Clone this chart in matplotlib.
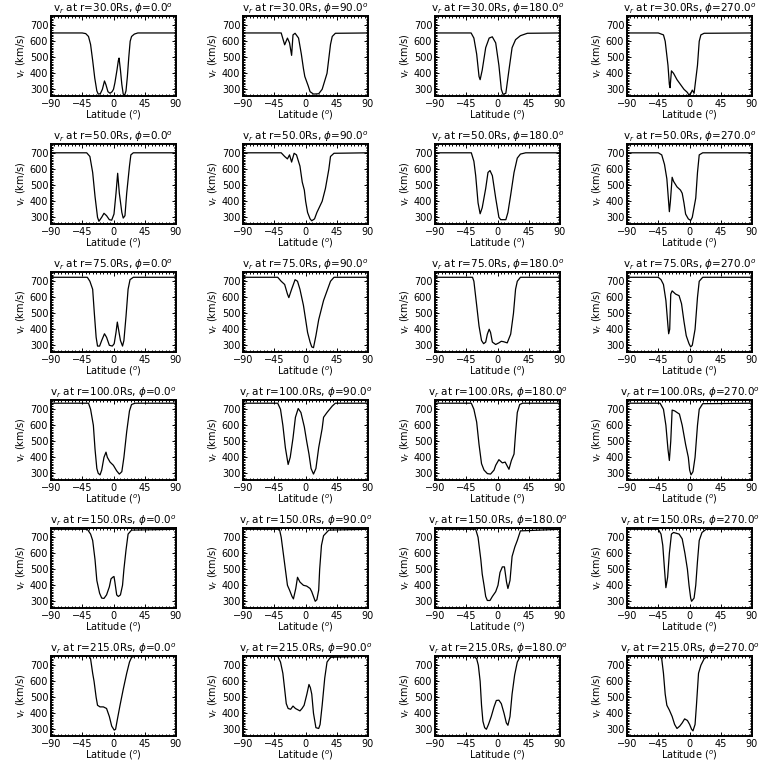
import matplotlib
matplotlib.use('Agg')
import matplotlib.pyplot as plt
from matplotlib.ticker import MultipleLocator

radii = [30.0, 50.0, 75.0, 100.0, 150.0, 215.0]
phis = [0.0, 90.0, 180.0, 270.0]

# r = 30 Rs
lat_30_0 = [-90, -45, -40, -36, -33, -30, -27, -24, -22, -19, -16, -13, -11, -8, -5, -2, 0, 2, 5, 7, 8, 10, 12, 14, 16, 18, 20, 22, 24, 26, 30, 35, 90]
v_30_0 = [652, 652, 648, 630, 580, 480, 370, 290, 270, 272, 300, 352, 330, 285, 275, 285, 300, 340, 420, 480, 495, 420, 330, 270, 262, 290, 380, 500, 600, 630, 645, 652, 652]
lat_30_90 = [-90, -35, -30, -26, -23, -20, -18, -15, -10, -6, -3, -1, 4, 6.6, 11.5, 19, 24, 31, 36, 38.5, 43, 90]
v_30_90 = [652, 652, 578, 620, 590, 512, 640, 650, 620, 520, 430, 380, 320, 285, 270, 272, 300, 400, 580, 630, 650, 652]
lat_30_180 = [-90, -38, -34, -30, -26.6, -25, -22, -17, -12, -7.5, -2.6, 2, 5.5, 8, 12, 16.5, 21, 26, 33, 43, 90]
v_30_180 = [652, 652, 620, 520, 380, 360, 420, 560, 620, 628, 590, 450, 300, 268, 275, 420, 560, 610, 635, 650, 652]
lat_30_270 = [-90, -45, -37.5, -35, -31, -29, -28, -26, -23, -18, -13, -8, -3, -1, 2, 4, 6.6, 11.5, 14, 16.4, 21, 90]
v_30_270 = [652, 652, 640, 600, 450, 330, 310, 415, 400, 360, 330, 300, 280, 265, 275, 295, 275, 450, 600, 640, 650, 652]

# r = 50 Rs
lat_50_0 = [-90, -38.6, -34, -30, -26.6, -23, -21, -17, -13.7, -10, -6, -2.6, 0.7, 3.6, 6, 8.4, 12, 14, 16.5, 19, 23, 25, 28.5, 90]
v_50_0 = [703, 703, 680, 580, 430, 300, 275, 300, 325, 310, 285, 282, 320, 450, 575, 450, 330, 295, 310, 450, 620, 690, 703, 703]
lat_50_90 = [-90, -35, -30, -26, -23, -20, -16.4, -13, -8, -4.7, -1.7, 0.2, 3, 6.6, 9, 13, 16.4, 24, 28.7, 33.6, 36, 41, 90]
v_50_90 = [703, 703, 680, 665, 690, 645, 700, 690, 620, 520, 470, 400, 330, 290, 278, 290, 330, 400, 480, 600, 680, 700, 703]
lat_50_180 = [-90, -37.7, -34, -31.4, -28, -25, -22, -17, -13.7, -10.8, -7.4, -2.6, 2, 4.6, 12, 15, 19, 23.8, 28.5, 33, 40.6, 90]
v_50_180 = [703, 703, 650, 560, 390, 322, 360, 480, 580, 592, 560, 420, 300, 285, 285, 330, 440, 580, 670, 695, 703, 703]
lat_50_270 = [-90, -45, -40, -36, -32.6, -29, -27.5, -25, -23, -18, -13, -10.5, -8, -5.6, -1.7, 1.7, 4, 9, 11.5, 14, 19, 90]
v_50_270 = [703, 703, 690, 630, 540, 335, 400, 550, 525, 490, 470, 450, 390, 320, 290, 280, 300, 420, 580, 690, 703, 703]

# r = 75 Rs
lat_75_0 = [-90, -37.7, -34, -30, -27.6, -25, -23, -20, -17, -13, -10, -6, -1.7, 1, 3.6, 5.5, 8, 10, 13, 15, 18, 21, 23.8, 28.5, 90]
v_75_0 = [725, 725, 700, 650, 500, 350, 295, 295, 330, 372, 350, 300, 295, 310, 380, 445, 380, 330, 295, 330, 480, 650, 710, 725, 725]
lat_75_90 = [-90, -40, -35, -30, -26, -24, -20, -15, -11.5, -8, -3, 0.2, 3, 6.6, 9, 11.5, 15, 19, 26, 31, 36, 41, 90]
v_75_90 = [725, 725, 700, 680, 620, 598, 650, 710, 700, 650, 550, 460, 380, 320, 290, 285, 360, 460, 580, 640, 700, 725, 725]
lat_75_180 = [-90, -36, -34, -30, -26.6, -23, -20, -17, -14.6, -12, -10, -7.4, -2.6, 2, 5.5, 9, 14, 19, 23, 26, 28.5, 33, 90]
v_75_180 = [725, 725, 700, 550, 420, 330, 310, 320, 370, 400, 380, 320, 305, 315, 325, 322, 315, 370, 500, 650, 700, 725, 725]
lat_75_270 = [-90, -45, -41, -37.5, -34, -31, -30, -28.5, -27, -25, -20, -15, -11.5, -8, -4.7, -0.7, 1.7, 4, 8, 11.5, 14, 19, 90]
v_75_270 = [725, 725, 710, 680, 580, 420, 372, 400, 620, 640, 620, 610, 560, 450, 360, 310, 290, 300, 400, 600, 700, 725, 725]

# r = 100 Rs
lat_100_0 = [-90, -36, -33, -29, -26.6, -24, -22, -19.4, -17, -13.7, -10.8, -8.9, -5, -0.2, 4.6, 8.4, 12, 15, 19, 23, 26, 31, 90]
v_100_0 = [738, 738, 700, 600, 450, 330, 300, 290, 320, 400, 432, 400, 370, 350, 315, 295, 310, 400, 560, 690, 730, 738, 738]
lat_100_90 = [-90, -40, -36, -32.6, -29, -25, -22, -18, -14.5, -10.5, -6.6, -1.7, 1.7, 5, 8, 11.5, 15, 19, 24, 26, 31, 38.5, 43, 90]
v_100_90 = [738, 738, 700, 600, 460, 355, 400, 520, 650, 705, 680, 590, 500, 420, 330, 295, 330, 460, 580, 650, 680, 720, 738, 738]
lat_100_180 = [-90, -37.7, -34, -30, -26.6, -23, -19.4, -14.6, -10, -5, -2.6, 2, 7, 11, 16.5, 20, 23.8, 26, 28.5, 32, 36, 90]
v_100_180 = [738, 738, 700, 620, 480, 360, 320, 298, 295, 320, 350, 385, 365, 370, 325, 380, 420, 550, 680, 730, 738, 738]
lat_100_270 = [-90, -42.4, -37.5, -34, -31, -29, -27, -25, -21.4, -18, -14.5, -10.5, -5.6, -1.7, 0.2, 2.2, 5, 8, 11.5, 14, 19, 90]
v_100_270 = [738, 738, 700, 600, 450, 380, 500, 695, 690, 680, 670, 600, 480, 400, 320, 290, 310, 400, 600, 700, 735, 738]

# r = 150 Rs
lat_150_0 = [-90, -37.7, -33, -30, -26.6, -24, -20, -17, -13.7, -10, -6, -3.6, -1.2, 0.7, 2, 4.6, 7, 10, 13, 15, 18, 21, 26, 90]
v_150_0 = [750, 750, 720, 680, 560, 430, 350, 320, 318, 340, 390, 440, 450, 455, 420, 340, 330, 340, 400, 500, 620, 720, 745, 750]
lat_150_90 = [-90, -37.5, -35, -32.6, -29, -26, -23, -19.4, -17.4, -14, -11.5, -8, -3, 1.7, 6.6, 9, 11.5, 14, 16.4, 19, 20.4, 23, 26, 33.6, 90]
v_150_90 = [750, 750, 700, 620, 500, 400, 370, 330, 315, 380, 450, 420, 400, 395, 380, 360, 330, 300, 310, 370, 500, 650, 710, 745, 750]
lat_150_180 = [-90, -31.4, -28, -24, -22, -19.4, -17, -14.6, -10.8, -7.4, -2.6, 0.7, 3.6, 7, 10, 13, 15, 18, 21, 25, 28.5, 33, 90]
v_150_180 = [750, 750, 700, 560, 470, 400, 330, 305, 305, 330, 360, 400, 480, 515, 515, 420, 380, 430, 580, 640, 680, 740, 750]
lat_150_270 = [-90, -45, -41, -38.5, -36, -34, -31.5, -29, -26, -23, -15, -10.5, -6.6, -3, -0.7, 1.7, 3, 6.6, 9, 11.5, 14, 18, 24, 90]
v_150_270 = [750, 750, 720, 650, 500, 385, 450, 600, 720, 730, 720, 690, 600, 500, 400, 320, 300, 320, 400, 550, 680, 730, 750, 750]

# r = 215 Rs
lat_215_0 = [-90, -35, -33, -30, -28, -25, -23, -19.4, -14.6, -10, -6, -2.6, 1, 3, 5.5, 9.4, 14, 19, 23, 26, 31, 90]
v_215_0 = [757, 757, 740, 650, 600, 500, 450, 440, 440, 430, 380, 320, 295, 300, 360, 450, 550, 650, 720, 750, 757, 757]
lat_215_90 = [-90, -40, -36, -32.6, -30, -27.7, -25, -21.4, -18, -14.5, -8, -5, -2, 2, 5, 7, 9, 11.5, 15, 19, 21, 24, 27.7, 31, 36, 90]
v_215_90 = [757, 757, 720, 650, 550, 460, 430, 425, 445, 430, 415, 430, 450, 520, 580, 560, 520, 400, 310, 305, 330, 450, 620, 720, 750, 757]
lat_215_180 = [-90, -34, -30, -27.6, -25, -23, -21, -18.5, -16, -13, -9, -5, -1.7, 2, 5.5, 9.4, 12.7, 15, 18, 21, 24.7, 28.5, 33, 90]
v_215_180 = [757, 757, 740, 700, 600, 450, 350, 310, 300, 330, 380, 440, 480, 482, 460, 400, 340, 325, 380, 520, 640, 720, 757, 757]
lat_215_270 = [-90, -42.4, -40, -37.5, -35, -32.6, -29, -25, -21.4, -18, -14, -10.5, -7, -3, 0.2, 3, 5, 8, 10, 13, 16.4, 21, 26, 90]
v_215_270 = [757, 757, 740, 650, 520, 450, 420, 380, 330, 305, 320, 340, 365, 355, 330, 300, 290, 330, 450, 650, 700, 740, 757, 757]

lats = [[lat_30_0, lat_30_90, lat_30_180, lat_30_270],
        [lat_50_0, lat_50_90, lat_50_180, lat_50_270],
        [lat_75_0, lat_75_90, lat_75_180, lat_75_270],
        [lat_100_0, lat_100_90, lat_100_180, lat_100_270],
        [lat_150_0, lat_150_90, lat_150_180, lat_150_270],
        [lat_215_0, lat_215_90, lat_215_180, lat_215_270]]
vels = [[v_30_0, v_30_90, v_30_180, v_30_270],
        [v_50_0, v_50_90, v_50_180, v_50_270],
        [v_75_0, v_75_90, v_75_180, v_75_270],
        [v_100_0, v_100_90, v_100_180, v_100_270],
        [v_150_0, v_150_90, v_150_180, v_150_270],
        [v_215_0, v_215_90, v_215_180, v_215_270]]

fig = plt.figure(figsize=(7.68, 7.68), dpi=100)
W = 768.0
for j, r in enumerate(radii):
    for i, phi in enumerate(phis):
        left = (51 + 192 * i) / W
        bottom = 1 - (96 + 128 * j) / W
        ax = fig.add_axes([left, bottom, 125 / W, 80 / W])
        ax.plot(lats[j][i], vels[j][i], color='black', lw=0.9)
        ax.set_xlim(-90, 90)
        ax.set_ylim(258, 758)
        ax.xaxis.set_major_locator(MultipleLocator(45))
        ax.xaxis.set_minor_locator(MultipleLocator(5))
        ax.yaxis.set_major_locator(MultipleLocator(100))
        ax.yaxis.set_minor_locator(MultipleLocator(10))
        ax.tick_params(which='both', direction='in', top=True, right=True,
                       labelsize=7, width=0.7, pad=2)
        ax.tick_params(which='major', length=3)
        ax.tick_params(which='minor', length=1.5)
        for s in ax.spines.values():
            s.set_linewidth(1.4)
        ax.set_title(r'v$_r$ at r=%.1fRs, $\phi$=%.1f$^o$' % (r, phi),
                     fontsize=7.5, pad=2)
        ax.set_ylabel(r'v$_r$ (km/s)', fontsize=7, labelpad=1)
        ax.set_xlabel(r'Latitude ($^o$)', fontsize=7, labelpad=0)

fig.savefig('out.png', dpi=100)
